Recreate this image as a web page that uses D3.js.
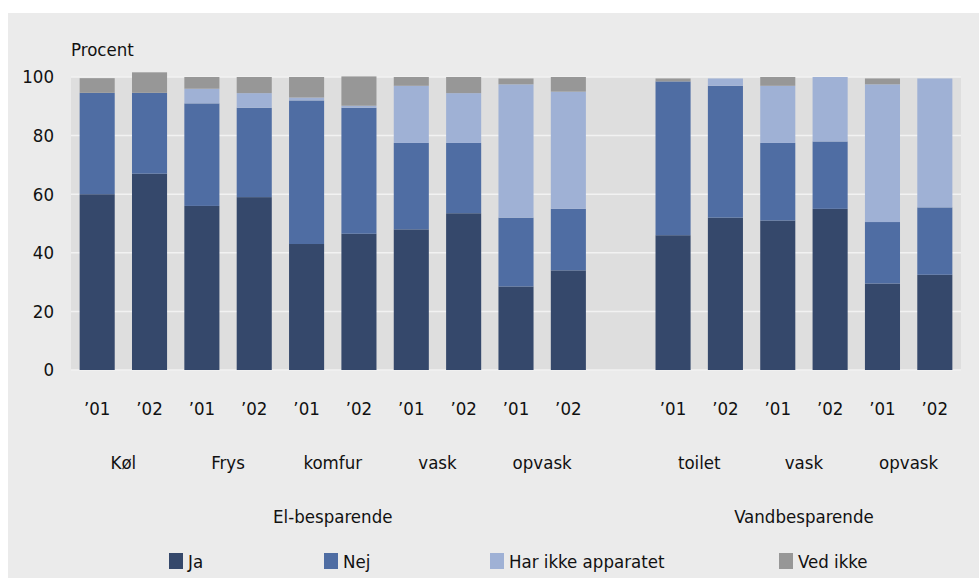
<!DOCTYPE html>
<html lang="da">
<head>
<meta charset="UTF-8">
<title>El- og vandbesparende apparater</title>
<style>
  body { margin: 0; background: #fff; }
  svg { display: block; }
  text { font-family: "DejaVu Sans Condensed", "Liberation Sans Narrow", sans-serif; fill: #111; }
</style>
</head>
<body>
<svg width="979" height="578"></svg>
<script src="https://d3js.org/d3.v7.min.js"></script>
<script>

// data
var years = ["\u201901", "\u201902"];
var appliances = ["Køl", "Frys", "komfur", "vask", "opvask", "toilet", "vask", "opvask"];
var groups = ["El-besparende", "Vandbesparende"];
var groupOf = [0, 0, 0, 0, 0, 1, 1, 1];
var keys = ["Ja", "Nej", "Har ikke apparatet", "Ved ikke"];

var ja      = [60, 67, 56, 59, 43, 46.5, 48, 53.5, 28.5, 34, 46, 52, 51, 55, 29.5, 32.5];
var nej     = [34.6, 27.6, 35, 30.5, 49, 43, 29.5, 24, 23.5, 21, 52.5, 45, 26.5, 23, 21, 23];
var harIkke = [0, 0, 5, 5, 1, 0.7, 19.5, 17, 45.5, 40, 0, 2.5, 19.5, 22, 47, 44];
var vedIkke = [5, 7, 4, 5.5, 7, 10, 3, 5.5, 2, 5, 1, 0, 3, 0, 2, 0];

var yTicks = [0, 20, 40, 60, 80, 100];

var colors = ["#35486b", "#4f6da3", "#9fb1d5", "#979797"];
var fontSize = 18.5;

var svg = d3.select("svg"),
    margin = {top: 77, left: 71, right: 18, bottom: 208},
    width = +svg.attr("width") - margin.left - margin.right,
    height = +svg.attr("height") - margin.top - margin.bottom;

// panel background
svg.append("rect")
    .attr("x", 8).attr("y", 13)
    .attr("width", 979 - 8).attr("height", 578 - 13)
    .attr("fill", "#ebebeb");

var g = svg.append("g").attr("transform", "translate(" + margin.left + "," + margin.top + ")");

// one slot per bar, with an empty slot between the two groups
var rows = [];
var slots = [];
appliances.forEach(function(a, i) {
  if (i > 0 && groupOf[i] != groupOf[i - 1]) slots.push("gap");
  years.forEach(function(yr, j) {
    var k = rows.length;
    var id = "s" + k;
    slots.push(id);
    rows.push({id: id, app: i, year: yr, "Ja": ja[k], "Nej": nej[k], "Har ikke apparatet": harIkke[k], "Ved ikke": vedIkke[k]});
  });
});

var x = d3.scaleBand().domain(slots).range([0, width]).paddingInner(0.33).paddingOuter(0.165);
var y = d3.scaleLinear().domain([0, 100]).range([height, 0]);

g.append("rect")
    .attr("width", width).attr("height", height)
    .attr("fill", "#dedede");

g.append("g")
    .selectAll("line")
    .data(yTicks)
    .enter().append("line")
      .attr("x1", 0).attr("x2", width)
      .attr("y1", function(d) { return y(d); })
      .attr("y2", function(d) { return y(d); })
      .attr("stroke", "#f2f2f2")
      .attr("stroke-width", 1.5);

var stacked = d3.stack().keys(keys)(rows);

g.append("g")
  .selectAll("g")
  .data(stacked)
  .enter().append("g")
    .attr("fill", function(d, i) { return colors[i]; })
  .selectAll("rect")
  .data(function(d) { return d; })
  .enter().append("rect")
    .attr("x", function(d) { return x(d.data.id); })
    .attr("y", function(d) { return y(d[1]); })
    .attr("width", x.bandwidth())
    .attr("height", function(d) { return y(d[0]) - y(d[1]); });

// y axis
var yAxis = g.append("g")
    .call(d3.axisLeft(y).tickValues(yTicks).tickSize(0).tickPadding(17));
yAxis.select(".domain").remove();
yAxis.selectAll("text")
    .attr("font-size", fontSize)
    .attr("font-family", null);

g.append("text")
    .attr("x", 0)
    .attr("y", -21)
    .attr("font-size", fontSize)
    .text("Procent");

// year labels
g.append("g")
  .selectAll("text")
  .data(rows)
  .enter().append("text")
    .attr("x", function(d) { return x(d.id) + x.bandwidth() / 2; })
    .attr("y", height + 45)
    .attr("text-anchor", "middle")
    .attr("font-size", fontSize)
    .text(function(d) { return d.year; });

// appliance labels
function centerOf(list) {
  var xs = list.map(function(d) { return x(d.id) + x.bandwidth() / 2; });
  return (d3.min(xs) + d3.max(xs)) / 2;
}

g.append("g")
  .selectAll("text")
  .data(appliances)
  .enter().append("text")
    .attr("x", function(d, i) { return centerOf(rows.filter(function(r) { return r.app == i; })); })
    .attr("y", height + 99)
    .attr("text-anchor", "middle")
    .attr("font-size", fontSize)
    .text(function(d) { return d; });

g.append("g")
  .selectAll("text")
  .data(groups)
  .enter().append("text")
    .attr("x", function(d, gi) { return centerOf(rows.filter(function(r) { return groupOf[r.app] == gi; })); })
    .attr("y", height + 153)
    .attr("text-anchor", "middle")
    .attr("font-size", fontSize)
    .text(function(d) { return d; });

// legend
var legendX = [169, 324, 490, 779];
var legend = svg.append("g")
  .selectAll("g")
  .data(keys)
  .enter().append("g")
    .attr("transform", function(d, i) { return "translate(" + legendX[i] + ",561)"; });

legend.append("rect")
    .attr("x", 0).attr("y", -8)
    .attr("width", 14).attr("height", 16)
    .attr("fill", function(d, i) { return colors[i]; });

legend.append("text")
    .attr("x", 19)
    .attr("y", 7)
    .attr("font-size", fontSize)
    .text(function(d) { return d; });

</script>
</body>
</html>
